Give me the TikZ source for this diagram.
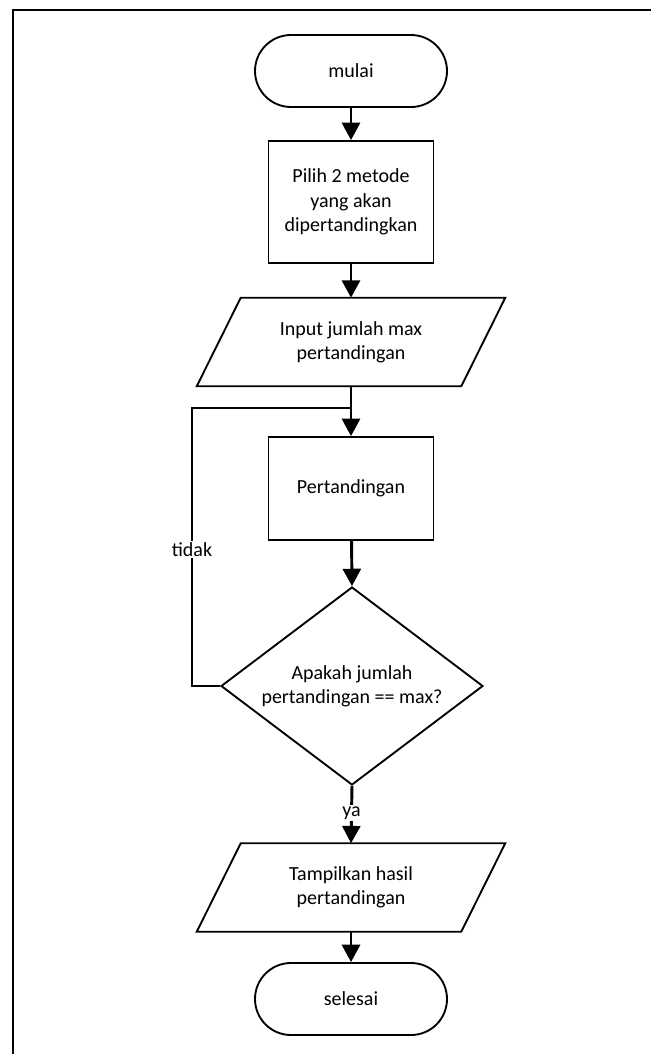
\documentclass[tikz,border=0pt]{standalone}
\usepackage{fontspec}
\setmainfont{Carlito}
\usetikzlibrary{shapes.geometric,arrows.meta}

\begin{document}
\begin{tikzpicture}[x=0.75pt,y=-0.75pt,
	every node/.style={font=\fontsize{15}{18.3}\selectfont, align=center},
	terminal/.style={draw, line width=1.4pt, rounded corners=27pt, minimum width=144pt, minimum height=54pt},
	proses/.style={draw, line width=1.4pt, minimum width=123.75pt},
	iobox/.style={minimum width=198pt, minimum height=66pt},
	keputusan/.style={draw, diamond, line width=1.4pt, aspect=1.32, inner sep=0pt, minimum width=196.5pt, minimum height=148.5pt},
	panah/.style={line width=2.2pt, -{Triangle[width=13.5pt,length=13pt]}},
	garis/.style={line width=2.2pt},
	ket/.style={fill=white, inner sep=1pt}]
	\useasboundingbox (0,0) rectangle (651,1054);
	\draw[line width=1.5pt] (13,1054) -- (13,10) -- (651,10);

	% simbol
	\node[terminal] (mulai) at (351,71) {mulai};
	\node[proses, minimum height=91.5pt] (pilih) at (351,202) {Pilih 2 metode\\yang akan\\dipertandingkan};
	\node[iobox] (input) at (351,342) {Input jumlah max\\pertandingan};
		\draw[line width=1.4pt] ([xshift=16.5pt]input.north west) -- ([xshift=16.5pt]input.north east)
			-- ([xshift=-16.5pt]input.south east) -- ([xshift=-16.5pt]input.south west) -- cycle;
	\node[proses, minimum height=77.25pt] (tanding) at (351,488.5) {Pertandingan};
	\node[keputusan] (cek) at (352,686) {Apakah jumlah\\pertandingan == max?};
	\node[iobox] (hasil) at (351,887.5) {Tampilkan hasil\\pertandingan};
		\draw[line width=1.4pt] ([xshift=16.5pt]hasil.north west) -- ([xshift=16.5pt]hasil.north east)
			-- ([xshift=-16.5pt]hasil.south east) -- ([xshift=-16.5pt]hasil.south west) -- cycle;
	\node[terminal] (selesai) at (351,999) {selesai};

	% alur
	\coordinate (gabung) at (351,408);
	\draw[panah] (mulai) -- (pilih);
	\draw[panah] (pilih) -- (input);
	\draw[panah] (input) -- (tanding);
	\draw[panah] (tanding) -- (cek.north);
	\draw[panah] (cek.south) -- node[ket, pos=0.47] (ya) {ya} (hasil.north);
	\draw[panah] (hasil) -- (selesai);
	\draw[garis] (cek.west) -- (192,686) coordinate (belok)
		-- node[ket, pos=0.49] (tidak) {tidak} (belok |- gabung) -- (gabung);
\end{tikzpicture}
\end{document}
